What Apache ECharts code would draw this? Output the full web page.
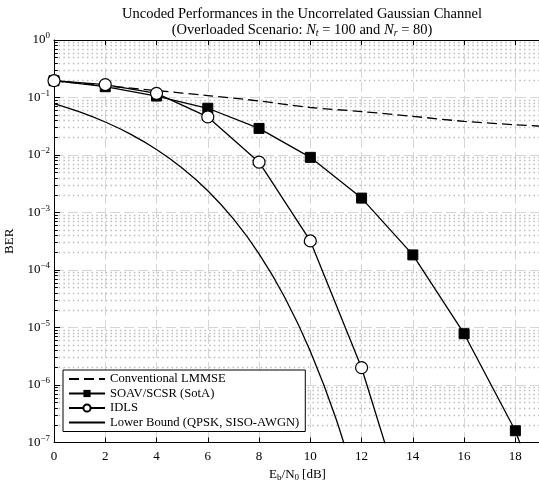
<!DOCTYPE html>
<html>
<head>
<meta charset="utf-8">
<script src="https://cdn.jsdelivr.net/npm/echarts@6/dist/echarts.min.js"></script>
<style>html,body{margin:0;padding:0;background:#fff;}#c{width:539px;height:483px;}</style>
</head>
<body>
<div id="c"></div>
<script>
// ---- data ----
const xTicks = [0, 2, 4, 6, 8, 10, 12, 14, 16, 18];
const snrEven = [0, 2, 4, 6, 8, 10, 12, 14, 16, 18, 20];
const lmmseBER = [0.195, 0.16, 0.132, 0.108, 0.087, 0.067, 0.057, 0.047, 0.0385, 0.0336, 0.030];
const soavBER = [0.196, 0.154, 0.106, 0.065, 0.029, 0.0091, 0.00178, 1.83e-4, 7.8e-6, 1.6e-7, 6e-10];
const idlsSNR = [0, 2, 4, 6, 8, 10, 12, 14];
const idlsBER = [0.196, 0.168, 0.118, 0.046, 0.0075, 3.2e-4, 2.0e-6, 2.6e-9];
const boundSNR = [0, 1, 2, 3, 4, 5, 6, 7, 8, 9, 10, 11, 12];
const boundBER = [0.0786, 0.0563, 0.0375, 0.0229, 0.0125, 0.00595, 0.00239, 7.73e-4, 1.91e-4, 3.36e-5, 3.87e-6, 2.61e-7, 9e-9];
const minorGridBER = [];
[-7,-6,-5,-4,-3,-2,-1].forEach(function(e){ for (let m = 2; m <= 9; m++) minorGridBER.push(m * Math.pow(10, e)); });
const seriesNames = ['Conventional LMMSE', 'SOAV/SCSR (SotA)', 'IDLS', 'Lower Bound (QPSK, SISO-AWGN)'];

const zip = (xs, ys) => xs.map((x, i) => [x, ys[i]]);
const FONT = 'Liberation Serif';
const X_MIN = 0, X_MAX = 19;
const MINOR_TICK_LEN = 0.15; // in dB units, short tick marks on left axis

const chart = echarts.init(document.getElementById('c'), null, {renderer: 'canvas'});
chart.setOption({
  animation: false,
  backgroundColor: '#fff',
  textStyle: {fontFamily: FONT, color: '#000'},
  title: {
    text: 'Uncoded Performances in the Uncorrelated Gaussian Channel\n(Overloaded Scenario: {i|N}{sub|t} = 100 and {i|N}{sub|r} = 80)',
    left: 297, top: 1, textAlign: 'center',
    textStyle: {
      fontFamily: FONT, fontSize: 14.5, fontWeight: 'normal', color: '#000', lineHeight: 16,
      rich: {
        i: {fontFamily: FONT, fontSize: 14.5, fontStyle: 'italic', color: '#000'},
        sub: {fontFamily: FONT, fontSize: 10, fontStyle: 'italic', color: '#000', padding: [6, 0, 0, 0]}
      }
    }
  },
  grid: {left: 54, right: -2, top: 40, bottom: 40.5, outerBoundsMode: 'none', containLabel: false},
  legend: {
    data: [
      {name: seriesNames[0], itemStyle: {opacity: 0}},
      {name: seriesNames[1]},
      {name: seriesNames[2]},
      {name: seriesNames[3], itemStyle: {opacity: 0}}
    ],
    z: 20,
    orient: 'vertical', left: 63, top: 370,
    backgroundColor: '#fff', borderColor: '#000', borderWidth: 1, borderRadius: 0,
    padding: [2, 6, 2, 5], itemGap: 0.5, itemWidth: 36, itemHeight: 9,
    textStyle: {fontFamily: FONT, fontSize: 12.6, lineHeight: 14, color: '#000'}
  },
  xAxis: [{
    type: 'value', min: X_MIN, max: X_MAX, interval: 2,
    name: '{r|E}{s|b}{r|/N}{s|0} {r|[dB]}', nameLocation: 'middle', nameGap: 23,
    nameTextStyle: {rich: {
      r: {fontFamily: FONT, fontSize: 13, color: '#000'},
      s: {fontFamily: FONT, fontSize: 9, color: '#000', padding: [6, 0, 0, 0]}
    }},
    axisLine: {show: true, onZero: false, lineStyle: {color: '#000', width: 1}},
    axisTick: {show: true, inside: true, length: 5, lineStyle: {color: '#000'}},
    axisLabel: {fontFamily: FONT, fontSize: 13, color: '#000', margin: 8,
      formatter: v => (xTicks.indexOf(v) >= 0 ? String(v) : '')},
    splitLine: {show: true, lineStyle: {color: '#d6d6d6', width: 1, type: [10, 4]}}
  }, {
    type: 'value', min: X_MIN, max: X_MAX, interval: 2, position: 'top',
    axisLine: {show: true, onZero: false, lineStyle: {color: '#000', width: 1}},
    axisTick: {show: true, inside: true, length: 5, lineStyle: {color: '#000'}},
    axisLabel: {show: false}, splitLine: {show: false}
  }],
  yAxis: {
    type: 'log', logBase: 10, min: 1e-7, max: 1, interval: 1,
    name: 'BER', nameLocation: 'middle', nameGap: 32, nameRotate: 90,
    nameTextStyle: {fontFamily: FONT, fontSize: 13, color: '#000'},
    axisLine: {show: true, lineStyle: {color: '#000', width: 1}},
    axisTick: {show: true, inside: true, length: 6, lineStyle: {color: '#000'}},
    axisLabel: {
      margin: 4,
      formatter: function (v) {
        const e = Math.round(Math.log10(v));
        return '{b|10}{s|' + (e < 0 ? '\u2212' + (-e) : e) + '}';
      },
      rich: {
        b: {fontFamily: FONT, fontSize: 13, color: '#000'},
        s: {fontFamily: FONT, fontSize: 9, color: '#000', padding: [0, 0, 8, 0]}
      }
    },
    splitLine: {show: true, lineStyle: {color: '#d6d6d6', width: 1, type: [10, 4]}}
  },
  series: [
    {
      name: 'minorGrid', type: 'line', data: [[0, 1e-3]], symbol: 'none', silent: true,
      lineStyle: {opacity: 0}, z: 0, legendHoverLink: false,
      markLine: {
        z: 0, silent: true, symbol: 'none', animation: false, label: {show: false}, precision: 20,
        lineStyle: {color: '#bcbcbc', width: 1.3, type: [1.5, 3.2]},
        data: minorGridBER.map(v => ({yAxis: v}))
      }
    },
    {
      name: 'minorTicks', type: 'line', data: [[0, 1e-3]], symbol: 'none', silent: true,
      lineStyle: {opacity: 0}, z: 1, legendHoverLink: false,
      markLine: {
        z: 1, silent: true, symbol: 'none', animation: false, label: {show: false}, precision: 20,
        lineStyle: {color: '#000', width: 1, type: 'solid'},
        data: minorGridBER.map(v => [{coord: [X_MIN, v]}, {coord: [X_MIN + MINOR_TICK_LEN, v]}])
      }
    },
    {
      name: seriesNames[0], type: 'line', data: zip(snrEven, lmmseBER), smooth: 0.3,
      symbol: 'none', z: 3,
      lineStyle: {color: '#000', width: 1.3, type: [10, 5]}, itemStyle: {color: '#000'}
    },
    {
      name: seriesNames[1], type: 'line', data: zip(snrEven, soavBER),
      symbol: 'rect', symbolSize: 10, z: 4,
      lineStyle: {color: '#000', width: 1.3}, itemStyle: {color: '#000', borderColor: '#000'}
    },
    {
      name: seriesNames[2], type: 'line', data: zip(idlsSNR, idlsBER),
      symbol: 'circle', symbolSize: 12, z: 5,
      lineStyle: {color: '#000', width: 1.3}, itemStyle: {color: '#fff', borderColor: '#000', borderWidth: 1.2}
    },
    {
      name: seriesNames[3], type: 'line', data: zip(boundSNR, boundBER), smooth: 0.3,
      symbol: 'none', z: 3,
      lineStyle: {color: '#000', width: 1.3}, itemStyle: {color: '#000'}
    }
  ]
});
</script>
</body>
</html>
